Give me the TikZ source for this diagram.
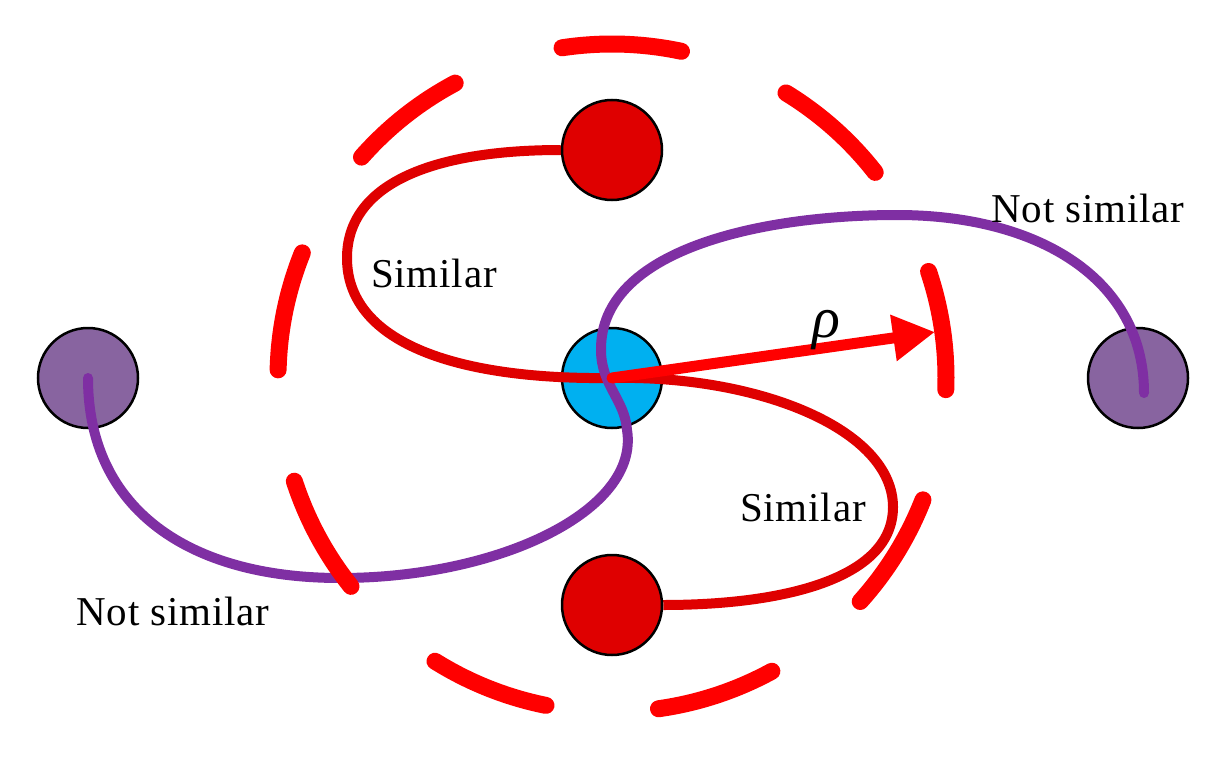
\documentclass[tikz,border=0pt]{standalone}
\usepackage{fontspec}
\setmainfont{Liberation Serif}
\usetikzlibrary{arrows.meta,calc}
\definecolor{cblue}{HTML}{00B0F0}
\definecolor{cdred}{HTML}{DF0000}
\definecolor{cred}{HTML}{FF0000}
\definecolor{cpurp}{HTML}{7F2FA3}
\definecolor{cpfill}{HTML}{8864A0}
\pgfdeclarelayer{bgA}
\pgfdeclarelayer{bgB}
\pgfsetlayers{bgA,bgB,main}
\tikzset{
  ball/.style={circle,draw=black,line width=2.5pt,minimum size=100pt,inner sep=0pt},
  simlink/.style={draw=cdred,line width=10pt},
  notlink/.style={draw=cpurp,line width=10pt,line cap=round},
  rim/.style={draw=cred,line width=17pt,line cap=round},
  lbl/.style={font=\fontsize{41}{48}\selectfont\addfontfeature{LetterSpace=2.0},inner sep=0pt},
  rholbl/.style={font=\fontsize{58}{64}\selectfont\itshape,inner sep=0pt},
  radiusarrow/.style={draw=cred,line width=11pt,line cap=round,-{Triangle[length=42pt,width=44pt]}},
}
\begin{document}
\begin{tikzpicture}[x=1pt,y=-1pt]
\useasboundingbox (0,0) rectangle (1220,760);
% bottom layer: centre and dissimilar points
\begin{pgfonlayer}{bgA}
  \node[ball,fill=cblue] (c) at (612,378) {};
  \node[ball,fill=cpfill] (pl) at (88,378) {};
  \node[ball,fill=cpfill] (pr) at (1138,378) {};
\end{pgfonlayer}
% similar points
\node[ball,fill=cdred] (rt) at (612,150) {};
\node[ball,fill=cdred] (rb) at (612,605) {};
% similar links
\begin{pgfonlayer}{bgB}
  \draw[simlink] (rt.west) .. controls (430,150) and (347,185) .. (347,258)
                 .. controls (347,340) and (450,380) .. (c.center);
  \draw[simlink] (c.center) .. controls (760,375) and (893,430) .. (893,507)
                 .. controls (893,580) and (780,605) .. (rb.east);
\end{pgfonlayer}
% not-similar link
\coordinate (pend) at ([shift={(6,15)}]pr.center);
\draw[notlink] (pl.center) .. controls (88,510) and (190,578) .. (340,578)
               .. controls (500,578) and (640,510) .. (627,430)
               .. controls (625,400) and (601,385) .. (601,350)
               .. controls (600,250) and (760,215) .. (897,215)
               .. controls (1040,215) and (1144,280) .. (pend);
% radius arrow
\coordinate (tip) at (935,332);
\draw[radiusarrow] (c.center) -- (tip);
% dashed neighbourhood circle
\foreach \k in {0,...,8}{
  \pgfmathsetmacro\lo{8.3+40*\k-10.3}
  \pgfmathsetmacro\hi{8.3+40*\k+10.3}
  \draw[rim] plot[domain=\lo:\hi,samples=30,smooth] ({612+334*cos(\x)},{378-334*sin(\x)});
}
% labels
\node[lbl] (s1) at (434,273) {Similar};
\node[lbl] (s2) at (803,507) {Similar};
\node[lbl] (n1) at (173,611) {Not similar};
\node[lbl] (n2) at (1088,208) {Not similar};
\node[rholbl] (rho) at (826,330) {ρ};
\end{tikzpicture}
\end{document}
